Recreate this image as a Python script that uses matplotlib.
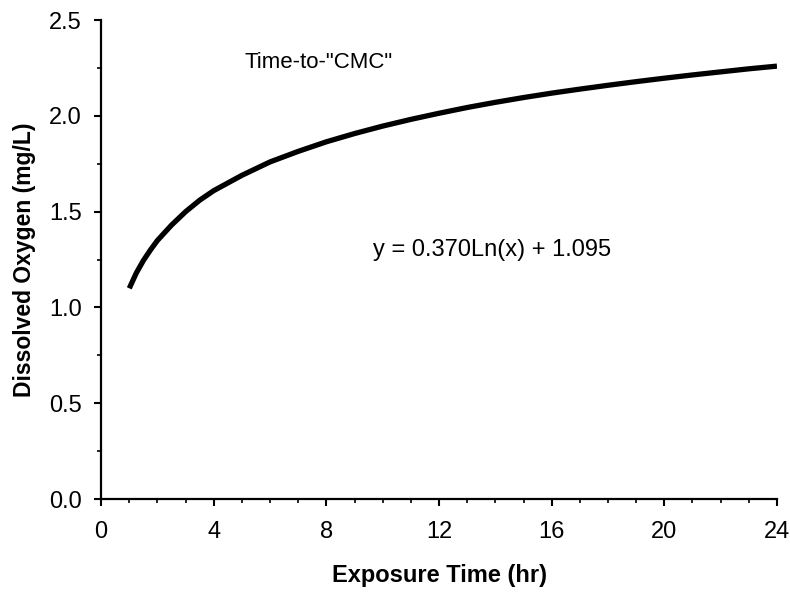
import matplotlib.pyplot as plt
from matplotlib.ticker import MultipleLocator

# Values
exposure_hr = [1, 1.25, 1.5, 1.75, 2, 2.5, 3, 3.5, 4, 5, 6, 7, 8, 9, 10, 11, 12,
               13, 14, 15, 16, 17, 18, 19, 20, 21, 22, 23, 24]
dissolved_o2 = [1.10, 1.18, 1.245, 1.30, 1.35, 1.43, 1.50, 1.56, 1.61, 1.69, 1.76,
                 1.815, 1.865, 1.908, 1.947, 1.982, 2.014, 2.044, 2.071, 2.096,
                 2.119, 2.140, 2.160, 2.179, 2.197, 2.214, 2.230, 2.246, 2.260]
x_ticks = [0, 4, 8, 12, 16, 20, 24]
y_ticks = [0.0, 0.5, 1.0, 1.5, 2.0, 2.5]

plt.rcParams["font.family"] = ["Liberation Sans", "DejaVu Sans"]

fig = plt.figure(figsize=(7.9, 5.93), dpi=100)
ax = fig.add_axes([0.128, 0.1585, 0.8555, 0.8075])

ax.plot(exposure_hr, dissolved_o2, color="black", linewidth=3.8,
        solid_capstyle="butt", solid_joinstyle="round")

ax.set_xlim(0, 24)
ax.set_ylim(0, 2.5)
ax.set_xticks(x_ticks)
ax.set_xticklabels([str(t) for t in x_ticks])
ax.set_yticks(y_ticks)
ax.set_yticklabels([f"{t:.1f}" for t in y_ticks])
ax.xaxis.set_minor_locator(MultipleLocator(1))
ax.yaxis.set_minor_locator(MultipleLocator(0.25))

ax.spines["top"].set_visible(False)
ax.spines["right"].set_visible(False)
ax.spines["left"].set_linewidth(1.6)
ax.spines["bottom"].set_linewidth(1.6)

ax.tick_params(axis="both", which="major", direction="out", length=5, width=1.5,
               labelsize=17)
ax.tick_params(axis="x", which="major", pad=11)
ax.tick_params(axis="y", which="major", pad=9)
ax.tick_params(axis="both", which="minor", direction="out", length=3, width=1.2)

ax.set_xlabel("Exposure Time (hr)", fontsize=17, fontweight="bold", labelpad=15)
ax.set_ylabel("Dissolved Oxygen (mg/L)", fontsize=16.5, fontweight="bold", labelpad=9)

ax.text(5.1, 2.28, 'Time-to-"CMC"', fontsize=16, va="center", ha="left")
ax.text(9.65, 1.3, "y = 0.370Ln(x) + 1.095", fontsize=17, va="center", ha="left")

fig.savefig("out.png", dpi=100)
